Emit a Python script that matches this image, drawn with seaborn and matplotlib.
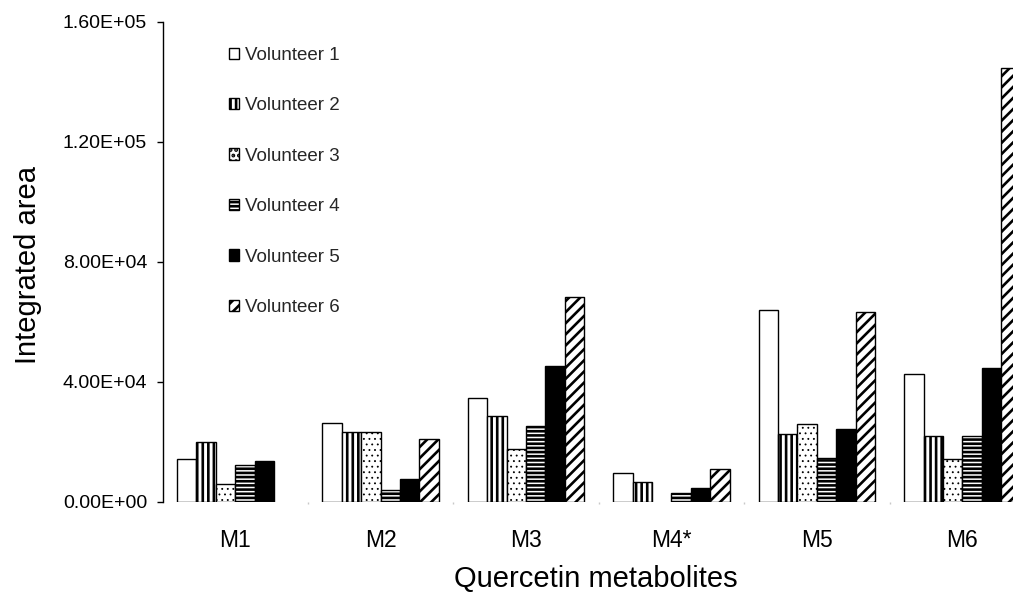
import numpy as np
import pandas as pd
import matplotlib
matplotlib.use("Agg")
import matplotlib.pyplot as plt
import matplotlib.patches as mpatches
from matplotlib.ticker import FuncFormatter, FixedLocator
import seaborn as sns

# ---- data (integrated area) ----
metabolites = ["M1", "M2", "M3", "M4*", "M5", "M6"]
volunteers = ["Volunteer 1", "Volunteer 2", "Volunteer 3",
              "Volunteer 4", "Volunteer 5", "Volunteer 6"]
vol1 = [14300, 26200, 34700, 9600, 63900, 42400]
vol2 = [19800, 23100, 28400, 6500, 22600, 21700]
vol3 = [5900, 23100, 17400, np.nan, 25800, 14300]
vol4 = [12300, 4000, 25100, 3000, 14500, 21700]
vol5 = [13400, 7600, 45200, 4500, 24300, 44700]
vol6 = [np.nan, 21000, 68300, 10800, 63300, 144500]
yticks = [0, 40000, 80000, 120000, 160000]

series = [vol1, vol2, vol3, vol4, vol5, vol6]
rows = []
for vname, vals in zip(volunteers, series):
    for m, v in zip(metabolites, vals):
        rows.append({"Metabolite": m, "Volunteer": vname, "Area": v})
df = pd.DataFrame(rows).dropna()

facecolors = ["white", "white", "white", "white", "black", "white"]
hatches = [None, "|||", "...", "----", None, "///"]

sns.set_theme(style="white")
plt.rcParams["font.family"] = ["Liberation Sans", "DejaVu Sans"]
plt.rcParams["hatch.linewidth"] = 1.9
plt.rcParams["hatch.color"] = "black"

W, H = 1013, 595
fig = plt.figure(figsize=(W / 100, H / 100), dpi=100)
left_px, right_px, top_px, base_px = 162.5, 1035.0, 22.0, 501.5
ax = fig.add_axes([left_px / W, (H - base_px) / H,
                   (right_px - left_px) / W, (base_px - top_px) / H])

sns.barplot(data=df, x="Metabolite", y="Area", hue="Volunteer",
            order=metabolites, hue_order=volunteers,
            palette=dict(zip(volunteers, facecolors)), saturation=1,
            edgecolor="black", linewidth=1.0, width=0.8,
            errorbar=None, legend=False, ax=ax)

for i, cont in enumerate(ax.containers):
    for bar in cont:
        if hatches[i]:
            bar.set_hatch(hatches[i])
            if hasattr(bar, "set_hatch_linewidth") and hatches[i] == "...":
                bar.set_hatch_linewidth(0.6)

ax.set_ylim(0, 160000)
ax.set_xlim(-0.5, 5.5)
ax.yaxis.set_major_locator(FixedLocator(yticks))
ax.yaxis.set_major_formatter(FuncFormatter(lambda v, p: f"{v:.2E}"))

for s in ["top", "right", "bottom"]:
    ax.spines[s].set_visible(False)
ax.spines["left"].set_color("black")
ax.spines["left"].set_linewidth(1.0)

ax.tick_params(axis="y", which="major", left=True, length=4.3, width=1.0,
               color="black", pad=6.8, labelsize=14, labelcolor="black")
ax.tick_params(axis="x", which="major", bottom=False, length=0, pad=19.5,
               labelsize=16.5, labelcolor="black")
ax.set_xticks(np.arange(0.5, 5.5, 1.0), minor=True)
ax.tick_params(axis="x", which="minor", bottom=True, length=1.2, width=1.0,
               color="#c8c8c8")

ax.set_xlabel("")
ax.set_ylabel("")
fig.text(28 / W, 1 - 265 / H, "Integrated area", rotation=90,
         ha="center", va="center", fontsize=21, color="black")
fig.text(596 / W, (H - 587) / H, "Quercetin metabolites",
         ha="center", va="baseline", fontsize=21, color="black")

handles = []
for fc, h in zip(facecolors, hatches):
    p = mpatches.Patch(facecolor=fc, edgecolor="black", hatch=h, linewidth=1.0)
    handles.append(p)
leg = ax.legend(handles, volunteers, loc="upper left",
                bbox_to_anchor=(229 / W, 1 - 47 / H),
                bbox_transform=fig.transFigure, frameon=False,
                fontsize=13.5, handlelength=0.55, handleheight=0.55,
                handletextpad=0.3, labelspacing=1.78, borderpad=0,
                borderaxespad=0)

fig.savefig("out.png", dpi=100)
